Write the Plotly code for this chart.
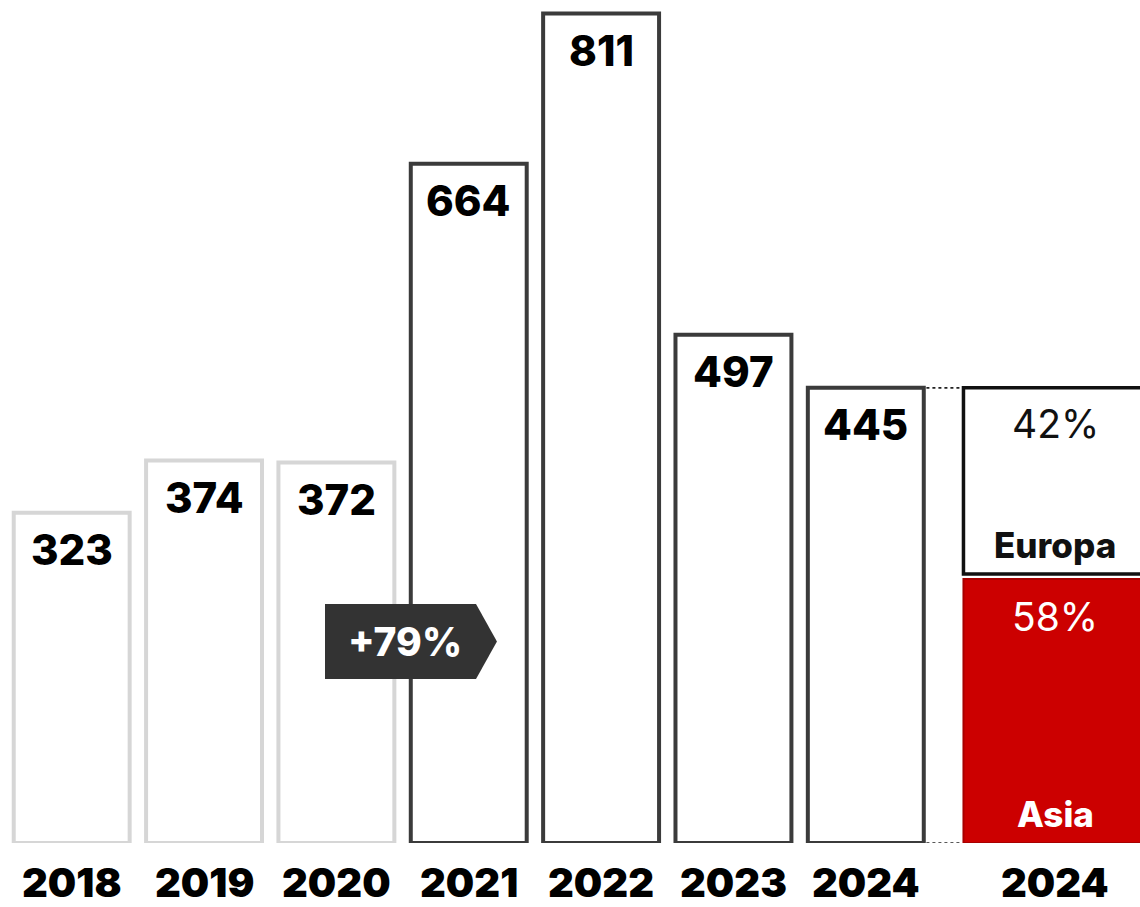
import plotly.graph_objects as go

# Annual totals
years = ["2018", "2019", "2020", "2021", "2022", "2023", "2024"]
totals = [323, 374, 372, 664, 811, 497, 445]

# 2024 split by region (percent)
regions = ["Asia", "Europa"]
shares = [58, 42]
split_year = "2024"
growth_label = "+79%"

FONT = "Inter"
GRAY_EDGE = "#d6d6d6"
DARK_EDGE = "#3b3b3b"
RED = "#cc0000"
RED_EDGE = "#a80000"

n = len(years)
xs = list(range(n))
edge_colors = [GRAY_EDGE if i < 3 else DARK_EDGE for i in range(n)]

fig = go.Figure()

# Outlined annual bars
fig.add_trace(go.Bar(
    x=xs, y=totals, width=0.876,
    marker=dict(color="white", line=dict(color=edge_colors, width=4)),
    hoverinfo="skip", showlegend=False,
))

# Stacked 2024 split bar
split_x = 7.43
split_w = 1.384
total_2024 = totals[-1]
asia_val = total_2024 * shares[0] / 100
europa_val = total_2024 * shares[1] / 100
gap = 5  # white gap between the two segments

fig.add_trace(go.Bar(
    x=[split_x], y=[asia_val], width=split_w,
    marker=dict(color=RED, line=dict(color=RED_EDGE, width=2)),
    hoverinfo="skip", showlegend=False,
))
fig.add_trace(go.Bar(
    x=[split_x], y=[europa_val - gap], base=[asia_val + gap], width=split_w,
    marker=dict(color="white", line=dict(color="#111111", width=3.5)),
    hoverinfo="skip", showlegend=False,
))

# Dotted connectors between the 2024 bar and its split
left_x = (n - 1) + 0.876 / 2 + 0.02
right_x = split_x - split_w / 2 - 0.01
for yv in (total_2024, 0):
    fig.add_trace(go.Scatter(
        x=[left_x, right_x], y=[yv, yv], mode="lines",
        line=dict(color="#222222", width=1.6, dash="dot"),
        hoverinfo="skip", showlegend=False,
    ))

annotations = []
# Values inside the bars
for i, v in enumerate(totals):
    annotations.append(dict(
        x=i, y=v, text=str(v), showarrow=False, yshift=-37,
        font=dict(family=FONT, size=42, color="#000000", weight=800),
    ))
# Year labels
for i, yr in enumerate(years + [split_year]):
    xv = i if i < n else split_x
    annotations.append(dict(
        x=xv, y=0, yref="paper", yanchor="middle", text=yr, showarrow=False,
        yshift=-39, font=dict(family=FONT, size=40, color="#000000", weight=900),
    ))
# Split labels
annotations += [
    dict(x=split_x, y=total_2024, text=f"{shares[1]}%", showarrow=False, yshift=-36,
         font=dict(family=FONT, size=39, color="#111111", weight=400)),
    dict(x=split_x, y=asia_val + gap, text=regions[1], showarrow=False, yshift=29,
         font=dict(family=FONT, size=35, color="#111111", weight=800)),
    dict(x=split_x, y=asia_val, text=f"{shares[0]}%", showarrow=False, yshift=-37,
         font=dict(family=FONT, size=39, color="white", weight=400)),
    dict(x=split_x, y=0, text=regions[0], showarrow=False, yshift=29,
         font=dict(family=FONT, size=35, color="white", weight=800)),
    dict(x=2.52, y=197, text=growth_label, showarrow=False,
         font=dict(family=FONT, size=39, color="white", weight=800)),
]

# Growth tag (arrow-shaped box)
fig.add_shape(
    type="path", xref="x", yref="y",
    path="M 1.914 233.7 L 3.055 233.7 L 3.213 197 L 3.055 160.3 L 1.914 160.3 Z",
    fillcolor="#333333", line=dict(width=0),
)

fig.update_layout(
    width=1140, height=907,
    margin=dict(l=0, r=0, t=0, b=64),
    plot_bgcolor="white", paper_bgcolor="white",
    barmode="overlay",
    xaxis=dict(range=[-0.5417, 8.0718], visible=False, fixedrange=True),
    yaxis=dict(range=[0, 824.2], visible=False, fixedrange=True),
    annotations=annotations,
)

fig.write_html("out.html")
